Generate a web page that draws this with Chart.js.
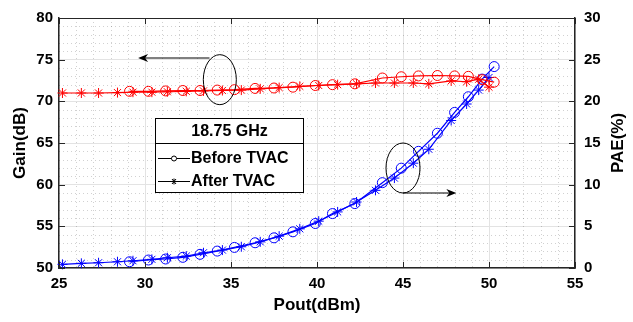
<!DOCTYPE html>
<html>
<head>
<meta charset="utf-8">
<script src="https://cdn.jsdelivr.net/npm/chart.js@4/dist/chart.umd.min.js"></script>
<style>
  body { margin: 0; background: #fff; }
  #wrap { width: 633px; height: 322px; }
</style>
</head>
<body>
<div id="wrap"><canvas id="canvas" width="633" height="322"></canvas></div>
<script>
// Before TVAC (circles)
let poutBefore = [29.1, 30.2, 31.2, 32.2, 33.2, 34.2, 35.2, 36.4, 37.5, 38.6, 39.9, 40.9, 42.2, 43.8, 44.9, 45.9, 47.0, 48.0, 48.8, 49.6, 50.3];
let gainBefore = [71.2, 71.2, 71.25, 71.3, 71.3, 71.35, 71.4, 71.55, 71.6, 71.7, 71.9, 72.0, 72.1, 72.8, 72.95, 73.05, 73.1, 73.05, 73.0, 72.6, 72.3];
let paeBefore = [0.75, 0.96, 1.08, 1.28, 1.64, 2.03, 2.47, 3.03, 3.62, 4.34, 5.34, 6.53, 7.73, 10.24, 11.98, 14.0, 16.17, 18.67, 20.55, 22.67, 24.17];

// After TVAC (asterisks)
let poutAfter = [25.2, 26.3, 27.3, 28.4, 29.3, 30.4, 31.3, 32.4, 33.4, 34.5, 35.6, 36.7, 37.8, 39.0, 40.1, 41.2, 42.3, 43.4, 44.5, 45.6, 46.5, 47.8, 48.7, 49.4, 50.0];
let gainAfter = [71.0, 71.0, 71.0, 71.05, 71.1, 71.1, 71.15, 71.2, 71.25, 71.3, 71.35, 71.5, 71.65, 71.8, 71.9, 72.0, 72.1, 72.2, 72.2, 72.2, 72.1, 72.45, 72.35, 72.65, 71.7];
let paeAfter = [0.44, 0.56, 0.63, 0.75, 0.87, 1.04, 1.23, 1.43, 1.83, 2.15, 2.55, 3.14, 3.82, 4.7, 5.62, 6.73, 7.92, 9.32, 10.79, 12.58, 14.25, 17.7, 19.68, 21.35, 22.86];

let legendTitle = '18.75 GHz';
let legendNames = ['Before TVAC', 'After TVAC'];
let rightTitle = 'PAE(%)';

let FONT = "'Liberation Sans', Arial, sans-serif";

function pts(xs, ys) {
    return xs.map((x, i) => ({x: x, y: ys[i]}));
}

function series(label, xs, ys, color, style, axis) {
    return {
        label: label,
        data: pts(xs, ys),
        yAxisID: axis,
        showLine: true,
        borderColor: color,
        backgroundColor: 'rgba(0,0,0,0)',
        borderWidth: 1.2,
        pointStyle: style,
        pointRadius: 5,
        pointBorderWidth: 1,
        pointBorderColor: color,
        pointBackgroundColor: 'rgba(0,0,0,0)',
        clip: 8
    };
}

function arrow(ctx, x1, x2, y) {
    let dir = x2 > x1 ? 1 : -1;
    ctx.beginPath();
    ctx.moveTo(x1, y);
    ctx.lineTo(x2 - dir * 6, y);
    ctx.stroke();
    ctx.beginPath();
    ctx.moveTo(x2, y);
    ctx.lineTo(x2 - dir * 10, y - 4);
    ctx.lineTo(x2 - dir * 7, y);
    ctx.lineTo(x2 - dir * 10, y + 4);
    ctx.closePath();
    ctx.fill();
}

// minor grid, inward ticks, top frame, notes and the boxed legend
let decor = {
    id: 'decor',
    beforeDatasetsDraw(chart) {
        let {ctx, chartArea: a, scales: {x, y}} = chart;
        ctx.save();
        ctx.strokeStyle = 'rgba(0,0,0,0.18)';
        ctx.lineWidth = 1;
        ctx.setLineDash([1, 3]);
        for (let v = 25; v <= 55; v++) {
            if (v % 5 === 0) continue;
            let px = Math.round(x.getPixelForValue(v)) + 0.5;
            ctx.beginPath(); ctx.moveTo(px, a.top); ctx.lineTo(px, a.bottom); ctx.stroke();
        }
        for (let v = 50; v <= 80; v++) {
            if (v % 5 === 0) continue;
            let py = Math.round(y.getPixelForValue(v)) + 0.5;
            ctx.beginPath(); ctx.moveTo(a.left, py); ctx.lineTo(a.right, py); ctx.stroke();
        }
        ctx.restore();
    },
    afterDatasetsDraw(chart) {
        let {ctx, chartArea: a, scales: {x, y}} = chart;
        ctx.save();
        ctx.strokeStyle = '#262626';
        ctx.lineWidth = 1;
        ctx.beginPath(); ctx.moveTo(a.left, a.top + 0.5); ctx.lineTo(a.right, a.top + 0.5); ctx.stroke();
        // inward ticks
        for (let v = 25; v <= 55; v += 5) {
            let px = Math.round(x.getPixelForValue(v)) + 0.5;
            ctx.beginPath();
            ctx.moveTo(px, a.bottom); ctx.lineTo(px, a.bottom - 6);
            ctx.moveTo(px, a.top); ctx.lineTo(px, a.top + 6);
            ctx.stroke();
        }
        for (let v = 50; v <= 80; v += 5) {
            let py = Math.round(y.getPixelForValue(v)) + 0.5;
            ctx.beginPath();
            ctx.moveTo(a.left, py); ctx.lineTo(a.left + 6, py);
            ctx.moveTo(a.right, py); ctx.lineTo(a.right - 6, py);
            ctx.stroke();
        }

        // right axis title, reading bottom to top
        ctx.save();
        ctx.fillStyle = '#000';
        ctx.font = 'bold 17px ' + FONT;
        ctx.textAlign = 'center';
        ctx.textBaseline = 'middle';
        ctx.translate(618, (a.top + a.bottom) / 2);
        ctx.rotate(-Math.PI / 2);
        ctx.fillText(rightTitle, 0, 0);
        ctx.restore();

        // ellipses + arrows
        ctx.strokeStyle = '#000';
        ctx.fillStyle = '#000';
        ctx.lineWidth = 1;
        let e1x = x.getPixelForValue(34.35), e1y = y.getPixelForValue(72.6);
        ctx.beginPath(); ctx.ellipse(e1x, e1y, 16.5, 25, 0, 0, Math.PI * 2); ctx.stroke();
        arrow(ctx, x.getPixelForValue(33.75), x.getPixelForValue(29.6), y.getPixelForValue(75.2));
        let e2x = x.getPixelForValue(45.0), e2y = y.getPixelForValue(62.0);
        ctx.beginPath(); ctx.ellipse(e2x, e2y, 17, 25, 0, 0, Math.PI * 2); ctx.stroke();
        arrow(ctx, x.getPixelForValue(45.0), x.getPixelForValue(48.1), y.getPixelForValue(59.0));

        // legend box
        let bx = 155.5, by = 118.5, bw = 148, bh = 74;
        ctx.fillStyle = '#fff';
        ctx.fillRect(bx, by, bw, bh);
        ctx.strokeStyle = '#000';
        ctx.strokeRect(bx, by, bw, bh);
        ctx.beginPath(); ctx.moveTo(bx, 143.5); ctx.lineTo(bx + bw, 143.5); ctx.stroke();
        ctx.fillStyle = '#000';
        ctx.font = 'bold 16px ' + FONT;
        ctx.textBaseline = 'middle';
        ctx.textAlign = 'center';
        ctx.fillText(legendTitle, bx + bw / 2, 131.5);
        ctx.textAlign = 'left';
        let rows = [158, 181];
        rows.forEach((ry, i) => {
            ctx.beginPath(); ctx.moveTo(158, ry + 0.5); ctx.lineTo(190, ry + 0.5); ctx.stroke();
            if (i === 0) {
                ctx.fillStyle = '#fff';
                ctx.beginPath(); ctx.arc(174, ry + 0.5, 2.5, 0, Math.PI * 2); ctx.fill(); ctx.stroke();
            } else {
                ctx.beginPath();
                ctx.moveTo(172, ry - 2); ctx.lineTo(176, ry + 3);
                ctx.moveTo(176, ry - 2); ctx.lineTo(172, ry + 3);
                ctx.moveTo(174, ry - 2.5); ctx.lineTo(174, ry + 3.5);
                ctx.stroke();
            }
            ctx.fillStyle = '#000';
            ctx.fillText(legendNames[i], 191, ry + 1);
        });
        ctx.restore();
    }
};

let tickFont = {family: FONT, size: 15, weight: 'bold'};
let titleFont = {family: FONT, size: 17, weight: 'bold'};

new Chart(document.getElementById('canvas'), {
    type: 'scatter',
    data: {
        datasets: [
            series('Gain Before TVAC', poutBefore, gainBefore, '#ff0000', 'circle', 'y'),
            series('Gain After TVAC', poutAfter, gainAfter, '#ff0000', 'star', 'y'),
            series('PAE Before TVAC', poutBefore, paeBefore, '#0000ff', 'circle', 'y1'),
            series('PAE After TVAC', poutAfter, paeAfter, '#0000ff', 'star', 'y1')
        ]
    },
    options: {
        responsive: false,
        animation: false,
        layout: {padding: {top: 17, left: 0, right: 0, bottom: 0}},
        plugins: {legend: {display: false}, tooltip: {enabled: false}},
        scales: {
            x: {
                type: 'linear', min: 25, max: 55,
                ticks: {stepSize: 5, color: '#000', font: tickFont, padding: 7, maxRotation: 0},
                grid: {color: '#e3e3e3', drawTicks: false},
                border: {color: '#262626', width: 1.5},
                title: {display: true, text: 'Pout(dBm)', color: '#000', font: titleFont, padding: {top: 0, bottom: 6}},
                afterFit: s => { s.height = 54; }
            },
            y: {
                position: 'left', min: 50, max: 80,
                ticks: {stepSize: 5, color: '#000', font: tickFont, padding: 6},
                grid: {color: '#e3e3e3', drawTicks: false},
                border: {color: '#262626', width: 1.5},
                title: {display: true, text: 'Gain(dB)', color: '#000', font: titleFont, padding: {top: 10, bottom: 0}},
                afterFit: s => { s.width = 59; }
            },
            y1: {
                position: 'right', min: 0, max: 30,
                ticks: {stepSize: 5, color: '#000', font: tickFont, padding: 9},
                grid: {drawOnChartArea: false, drawTicks: false},
                border: {color: '#262626', width: 1.5},
                title: {display: false},
                afterFit: s => { s.width = 58; }
            }
        }
    },
    plugins: [decor]
});
</script>
</body>
</html>
